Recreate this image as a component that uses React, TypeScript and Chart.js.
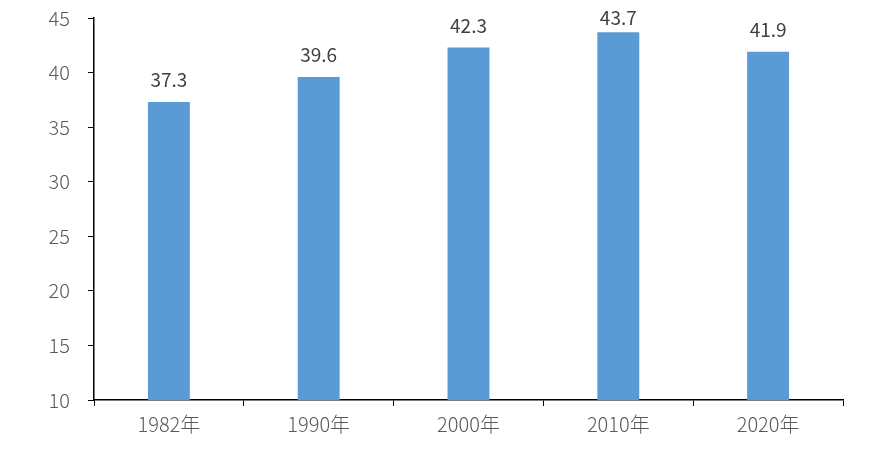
import React, { useEffect, useRef } from "react";
import { Chart, registerables } from "chart.js";

Chart.register(...registerables);

const categories = ["1982年", "1990年", "2000年", "2010年", "2020年"];
const values = [37.3, 39.6, 42.3, 43.7, 41.9];
const yMin = 10;
const yMax = 45;
const yStep = 5;

const FONT = "'Noto Sans CJK SC', 'Noto Sans', sans-serif";

const labelPlugin = {
  id: "barLabels",
  afterDatasetsDraw(chart: any) {
    const ctx = chart.ctx;
    const meta = chart.getDatasetMeta(0);
    ctx.save();
    ctx.font = `19px ${FONT}`;
    ctx.fillStyle = "#404040";
    ctx.textAlign = "center";
    ctx.textBaseline = "middle";
    meta.data.forEach((bar: any, i: number) => {
      const y = Math.max(bar.y - 22, 17.5);
      ctx.fillText(values[i].toFixed(1), bar.x, y);
    });
    ctx.restore();
  },
};

export default function App() {
  const ref = useRef<HTMLCanvasElement>(null);
  useEffect(() => {
    if (!ref.current) return;
    const chart = new Chart(ref.current, {
      type: "bar",
      data: {
        labels: categories,
        datasets: [
          {
            data: values,
            backgroundColor: "#5B9BD5",
            categoryPercentage: 1,
            barPercentage: 0.28,
          },
        ],
      },
      options: {
        animation: false,
        responsive: false,
        devicePixelRatio: 1,
        layout: { padding: { left: 0, right: 29, top: 18, bottom: 0 } },
        plugins: { legend: { display: false }, tooltip: { enabled: false } },
        scales: {
          x: {
            grid: {
              display: true,
              offset: true,
              drawOnChartArea: false,
              drawTicks: true,
              tickLength: 6,
              color: "#000000",
            },
            border: { display: true, color: "#000000", width: 1.5 },
            ticks: {
              color: "#595959",
              font: { family: FONT, size: 20, weight: "300" },
              padding: 6,
            },
            afterFit(scale: any) {
              scale.height = 62;
              scale.paddingLeft = 0;
              scale.paddingRight = 0;
            },
          },
          y: {
            min: yMin,
            max: yMax,
            grid: {
              display: true,
              drawOnChartArea: false,
              drawTicks: true,
              tickLength: 6,
              color: "#000000",
            },
            border: { display: true, color: "#000000", width: 1.5 },
            ticks: {
              stepSize: yStep,
              color: "#595959",
              font: { family: FONT, size: 20, weight: "300" },
              padding: 18,
            },
            afterFit(scale: any) {
              scale.width = 94;
              scale.paddingTop = 0;
              scale.paddingBottom = 0;
            },
          },
        },
      },
      plugins: [labelPlugin],
    });
    return () => chart.destroy();
  }, []);
  return (
    <div style={{ position: "fixed", left: 0, top: 0, width: 872, height: 462, background: "#fff" }}>
      <canvas ref={ref} width={872} height={462} style={{ width: 872, height: 462 }} />
    </div>
  );
}
